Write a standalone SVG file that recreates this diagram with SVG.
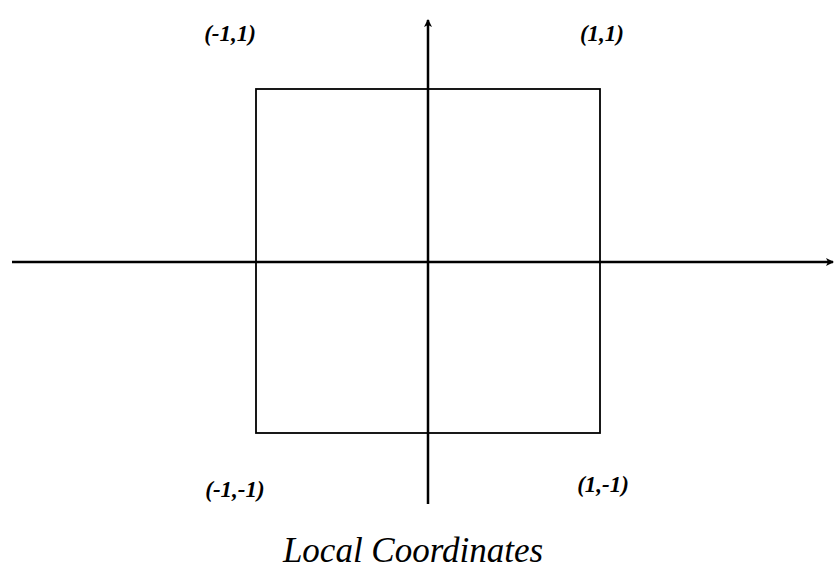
<svg xmlns="http://www.w3.org/2000/svg" width="834" height="574" viewBox="0 0 834 574">
<style>
.axis{stroke:#000;stroke-width:2.5;fill:none}
.box{stroke:#000;stroke-width:1.8;fill:none}
.lbl{font-family:"Liberation Serif","DejaVu Serif",serif;font-style:italic;font-weight:bold;font-size:23px;fill:#000;text-anchor:middle}
.title{font-family:"Liberation Serif","DejaVu Serif",serif;font-style:italic;font-size:35px;fill:#000;text-anchor:middle}
</style>
<defs>
<marker id="arr" markerWidth="8" markerHeight="8" refX="7" refY="4" orient="auto" markerUnits="userSpaceOnUse">
<path d="M0,0 L8,4 L0,8 L2,4 Z" fill="#000"/>
</marker>
</defs>
<rect width="834" height="574" fill="#fff"/>
<g id="square"><rect class="box" x="256" y="89" width="344" height="344"/></g>
<g id="connectors">
<line class="axis" x1="12" y1="262" x2="833" y2="262" marker-end="url(#arr)"/>
<line class="axis" x1="428" y1="504" x2="428" y2="20" marker-end="url(#arr)"/>
</g>
<g id="label-tl"><text class="lbl" x="230" y="41">(-1,1)</text></g>
<g id="label-tr"><text class="lbl" x="602" y="41">(1,1)</text></g>
<g id="label-bl"><text class="lbl" x="235" y="497">(-1,-1)</text></g>
<g id="label-br"><text class="lbl" x="603" y="492">(1,-1)</text></g>
<g id="title"><text class="title" x="413" y="562">Local Coordinates</text></g>
</svg>
